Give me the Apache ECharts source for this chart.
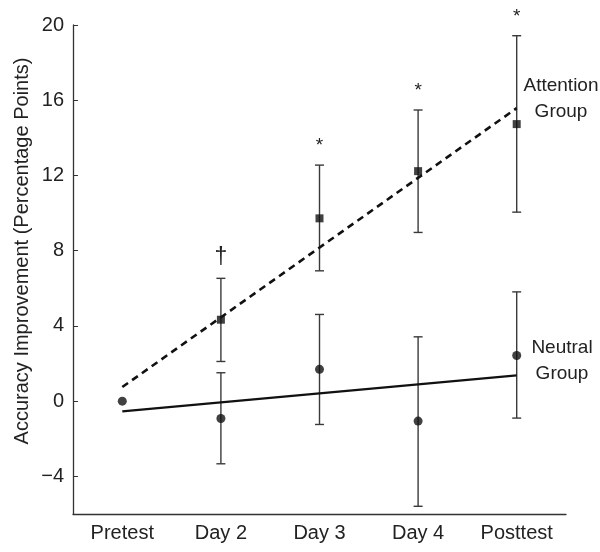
<!DOCTYPE html>
<html><head><meta charset="utf-8">
<script src="https://cdn.jsdelivr.net/npm/echarts@6/dist/echarts.min.js"></script>
<style>html,body{margin:0;padding:0;background:#fff}#c{width:600px;height:552px}</style>
</head><body><div id="c"></div>
<script>
const categories = ['Pretest', 'Day 2', 'Day 3', 'Day 4', 'Posttest'];
const attentionMean = [0, 4.33, 9.72, 12.23, 14.73];
const attentionLow  = [null, 2.11, 6.93, 8.97, 10.05];
const attentionHigh = [null, 6.53, 12.55, 15.48, 19.43];
const neutralMean = [0, -0.92, 1.69, -1.06, 2.43];
const neutralLow  = [null, -3.33, -1.24, -5.59, -0.90];
const neutralHigh = [null, 1.51, 4.61, 3.42, 5.81];
const attentionFit = [0.75, 15.58];   // fitted line at Pretest and Posttest
const neutralFit = [-0.54, 1.37];
const significance = ['', '\u2020', '*', '*', '*'];
const yTicks = [-4, 0, 4, 8, 12, 16, 20];

const FONT = '"Liberation Sans", Arial, sans-serif';

function errData(low, high) {
  const out = [];
  for (let i = 0; i < categories.length; i++) {
    if (low[i] != null) out.push([i, low[i], high[i]]);
  }
  return out;
}

function errRender(params, api) {
  const x = api.value(0);
  const lo = api.coord([x, api.value(1)]);
  const hi = api.coord([x, api.value(2)]);
  const w = 4.5;
  const st = { stroke: '#3a3a3a', lineWidth: 1.4 };
  return {
    type: 'group',
    children: [
      { type: 'line', shape: { x1: hi[0], y1: hi[1], x2: lo[0], y2: lo[1] }, style: st },
      { type: 'line', shape: { x1: hi[0] - w, y1: hi[1], x2: hi[0] + w, y2: hi[1] }, style: st },
      { type: 'line', shape: { x1: lo[0] - w, y1: lo[1], x2: lo[0] + w, y2: lo[1] }, style: st }
    ]
  };
}

const sigData = [];
for (let i = 0; i < categories.length; i++) {
  if (significance[i]) sigData.push([i, attentionHigh[i], significance[i]]);
}

const chart = echarts.init(document.getElementById('c'), null, { renderer: 'canvas' });
chart.setOption({
  animation: false,
  backgroundColor: '#fff',
  grid: { left: 73, right: 34, top: 25, bottom: 38 },
  xAxis: {
    type: 'category',
    data: categories,
    boundaryGap: true,
    axisLine: { onZero: false, lineStyle: { color: '#333', width: 1.3 } },
    axisTick: { inside: true, alignWithLabel: true, length: 5, lineStyle: { color: '#333' } },
    axisLabel: { interval: 0, color: '#222', fontFamily: FONT, fontSize: 20, margin: 9 },
    splitLine: { show: false }
  },
  yAxis: {
    type: 'value',
    min: -6, max: 20,
    axisLine: { show: true, lineStyle: { color: '#333', width: 1.3 } },
    axisTick: { show: true, inside: true, length: 5, customValues: yTicks, lineStyle: { color: '#333' } },
    axisLabel: {
      color: '#222', fontFamily: FONT, fontSize: 20, margin: 9, customValues: yTicks,
      formatter: v => (v < 0 ? '\u2212' + Math.abs(v) : String(v))
    },
    splitLine: { show: false }
  },
  graphic: [
    { type: 'text', x: 22, y: 251, rotation: Math.PI / 2,
      style: { text: 'Accuracy Improvement (Percentage Points)', fontFamily: FONT, fontSize: 20, fill: '#222', align: 'center', verticalAlign: 'middle' } },
    { type: 'text', x: 561, y: 99,
      style: { text: 'Attention\nGroup', fontFamily: FONT, fontSize: 19, lineHeight: 26, fill: '#222', align: 'center', verticalAlign: 'middle' } },
    { type: 'text', x: 562, y: 361,
      style: { text: 'Neutral\nGroup', fontFamily: FONT, fontSize: 19, lineHeight: 26, fill: '#222', align: 'center', verticalAlign: 'middle' } }
  ],
  series: [
    { type: 'custom', renderItem: errRender, data: errData(attentionLow, attentionHigh), z: 2 },
    { type: 'custom', renderItem: errRender, data: errData(neutralLow, neutralHigh), z: 2 },
    { type: 'line', data: [[0, attentionFit[0]], [4, attentionFit[1]]], symbol: 'none',
      lineStyle: { color: '#111', width: 2.6, type: [7, 5] }, z: 3 },
    { type: 'line', data: [[0, neutralFit[0]], [4, neutralFit[1]]], symbol: 'none',
      lineStyle: { color: '#111', width: 2.2 }, z: 3 },
    { type: 'scatter', symbol: 'rect', symbolSize: 8,
      data: attentionMean.map((v, i) => [i, v]).slice(1),
      itemStyle: { color: '#111' }, z: 4 },
    { type: 'scatter', symbol: 'circle', symbolSize: 9,
      data: neutralMean.map((v, i) => [i, v]),
      itemStyle: { color: '#111' }, z: 4 },
    { type: 'custom', data: sigData, z: 5,
      renderItem: (params, api) => {
        const p = api.coord([api.value(0), api.value(1)]);
        const s = sigData[params.dataIndex][2];
        const dagger = s === '\u2020';
        return { type: 'text', x: p[0], y: p[1] - (dagger ? 21 : 19),
          style: { text: s, fontFamily: FONT, fontSize: dagger ? 23 : 19, fill: '#222', align: 'center', verticalAlign: 'middle' } };
      } }
  ]
});
</script></body></html>
